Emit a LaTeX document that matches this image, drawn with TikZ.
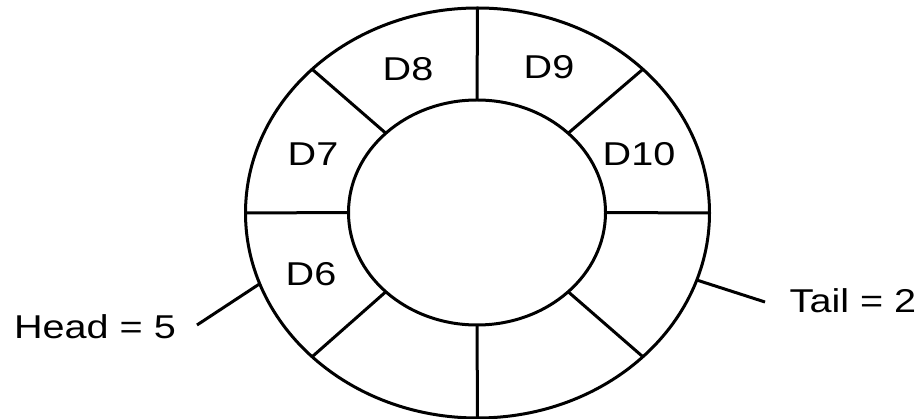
\documentclass[tikz,border=0pt]{standalone}
\usepackage{fontspec}
\setmainfont[FakeStretch=1.2]{Liberation Sans}
\usetikzlibrary{shapes.geometric}

\begin{document}
\begin{tikzpicture}[x=1pt,y=-1pt,line width=3pt,
    ring/.style={ellipse,draw,outer sep=0pt,inner sep=0pt},
    cell/.style={font=\fontsize{33}{39}\selectfont,inner sep=0pt}]
    \useasboundingbox (0,0) rectangle (923,419);
    \node[ring,minimum width=464pt,minimum height=410pt] (outer) at (477.5,213) {};
    \node[ring,minimum width=257pt,minimum height=225pt] (inner) at (477,212.5) {};
    \foreach \a in {0,41,90,139,180,221,270,319}
      \draw (outer.\a) -- (inner.\a);
    \node[cell] (d6) at (311,274) {D6};
    \node[cell] (d7) at (313,154) {D7};
    \node[cell] (d8) at (408,69) {D8};
    \node[cell] (d9) at (549,67) {D9};
    \node[cell] (d10) at (639,154) {D10};
    \node[cell] (head) at (95,327) {Head = 5};
    \node[cell] (tail) at (853,301) {Tail = 2};
    \coordinate (headend) at (197,325);
    \coordinate (tailend) at (765,302);
    \draw (headend) -- (outer.198);
    \draw (outer.-17) -- (tailend);
\end{tikzpicture}
\end{document}
